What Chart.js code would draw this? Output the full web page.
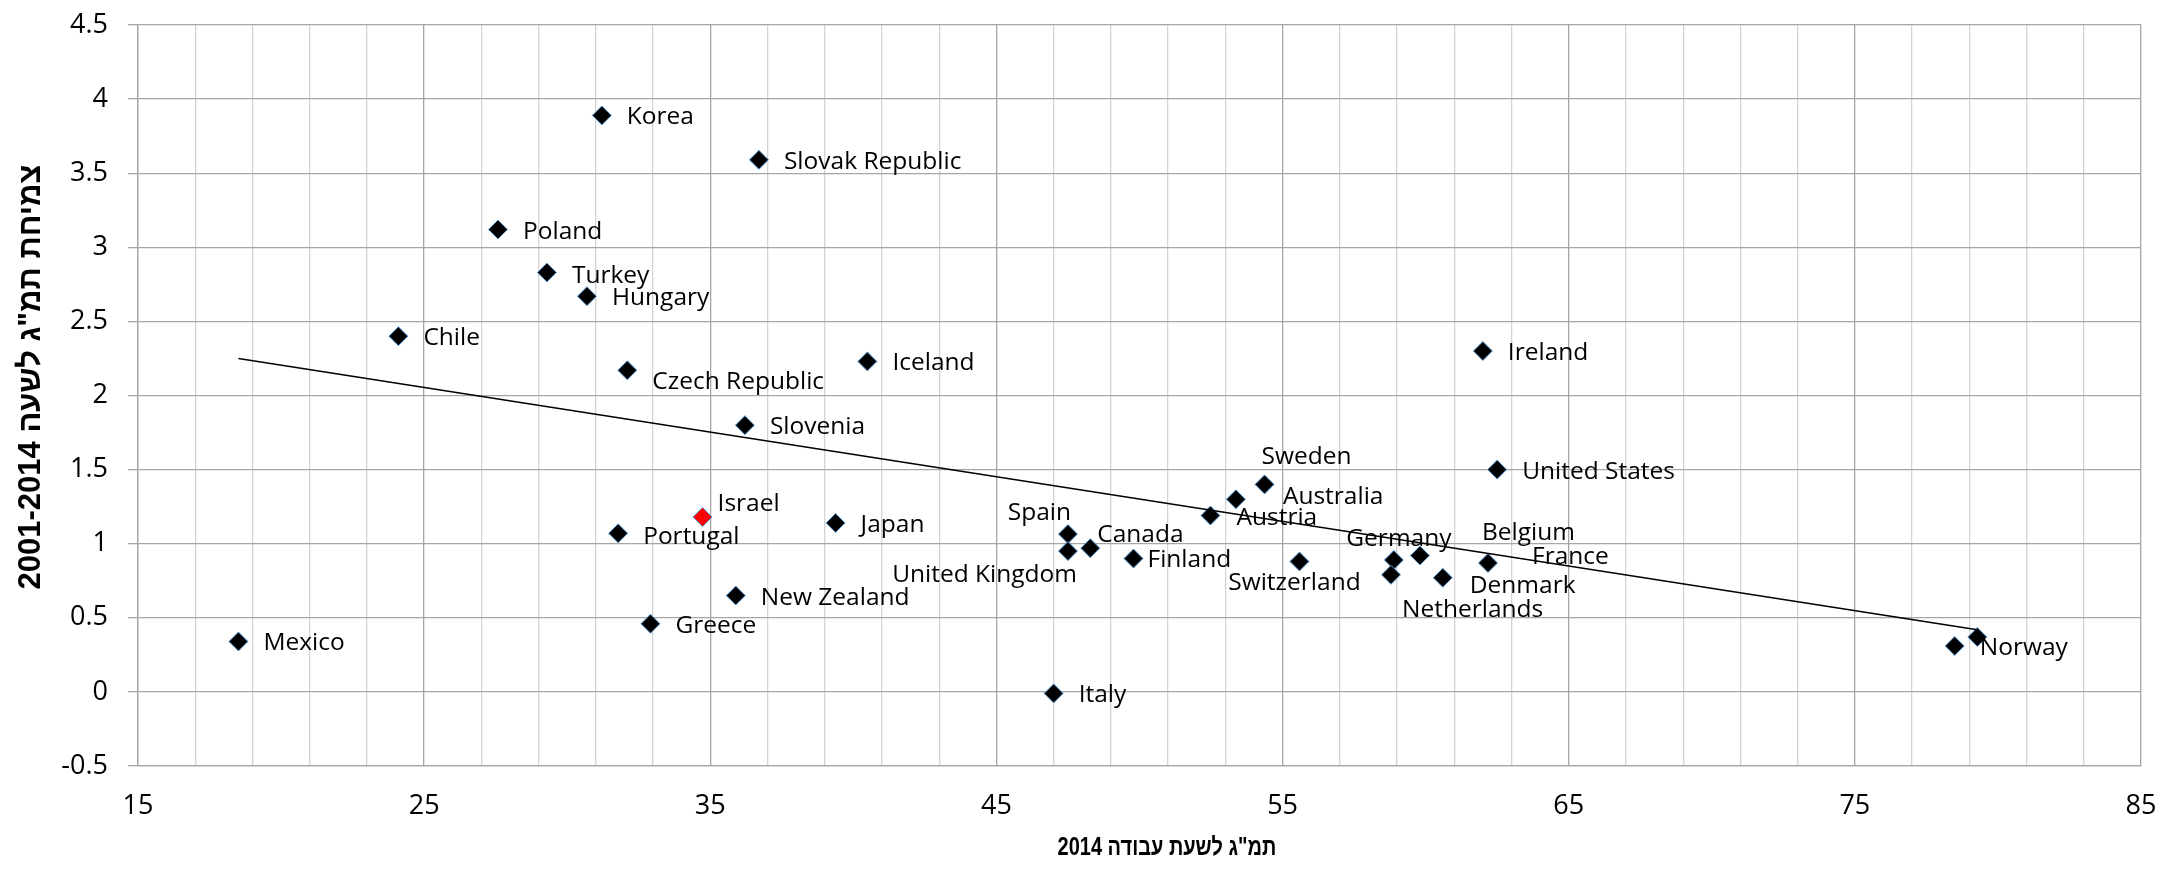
<!DOCTYPE html>
<html>
<head>
<meta charset="utf-8">
<script src="https://cdn.jsdelivr.net/npm/chart.js@4"></script>
<style>
  body { margin: 0; background: #fff; }
</style>
</head>
<body>
<canvas id="chart" width="2160" height="869"></canvas>
<script>
// Data
const countries = ["Korea", "Slovak Republic", "Poland", "Turkey", "Hungary", "Chile", "Czech Republic", "Iceland",
    "Slovenia", "Israel", "Portugal", "Japan", "New Zealand", "Greece", "Mexico", "Spain", "United Kingdom",
    "Canada", "Finland", "Italy", "Austria", "Australia", "Sweden", "Switzerland", "Germany", "Netherlands",
    "Belgium", "Denmark", "France", "Ireland", "United States", "Norway", ""];
const gdpPerHour = [31.21, 36.70, 27.58, 29.29, 30.69, 24.10, 32.10, 40.49,
    36.21, 34.73, 31.78, 39.38, 35.89, 32.91, 18.51, 47.50, 47.50,
    48.28, 49.79, 47.00, 52.48, 53.37, 54.37, 55.59, 58.89, 58.79,
    59.80, 60.60, 62.18, 62.00, 62.50, 78.49, 79.28];
const growth = [3.89, 3.59, 3.12, 2.83, 2.67, 2.40, 2.17, 2.23,
    1.80, 1.18, 1.07, 1.14, 0.65, 0.46, 0.34, 1.065, 0.95,
    0.97, 0.90, -0.01, 1.19, 1.30, 1.40, 0.88, 0.89, 0.79,
    0.92, 0.77, 0.87, 2.30, 1.50, 0.31, 0.37];
const highlight = "Israel";

// trend line end points
const trendX = [18.51, 79.28];
const trendY = [2.25, 0.42];

const xTickLabels = [15, 25, 35, 45, 55, 65, 75, 85];
const yTickLabels = [-0.5, 0, 0.5, 1, 1.5, 2, 2.5, 3, 3.5, 4, 4.5];

const xTitle = 'תמ"ג לשעת עבודה 2014';
const yTitle = 'צמיחת תמ"ג לשעה 2001-2014';

// where each data label sits relative to its marker: [dx, dy, align]
const labelPlacement = {
    "Turkey": [25, 4, "left"],
    "Czech Republic": [25, 12, "left"],
    "Israel": [15, -13, "left"],
    "Portugal": [25, 4, "left"],
    "Spain": [3, -21, "right"],
    "United Kingdom": [9, 24, "right"],
    "Canada": [7, -13, "left"],
    "Finland": [14, 1, "left"],
    "Austria": [26, 2, "left"],
    "Australia": [47, -2, "left"],
    "Sweden": [-3, -27, "left"],
    "Switzerland": [-5, 22, "center"],
    "Germany": [5, -21, "center"],
    "Netherlands": [11, 35, "left"],
    "Belgium": [62, -23, "left"],
    "Denmark": [27, 8, "left"],
    "France": [44, -6, "left"]
};

const labelFont = '24.5px "Open Sans", sans-serif';
const titleFamily = '"Liberation Sans", Arial, sans-serif';

const points = gdpPerHour.map((x, i) => ({ x: x, y: growth[i] }));
const trend = trendX.map((x, i) => ({ x: x, y: trendY[i] }));

// Country names next to the markers
const pointLabels = {
    id: 'pointLabels',
    afterDatasetsDraw(chart) {
        const ctx = chart.ctx;
        const meta = chart.getDatasetMeta(1);
        ctx.save();
        ctx.font = labelFont;
        ctx.fillStyle = '#000';
        ctx.textBaseline = 'middle';
        meta.data.forEach((el, i) => {
            const name = countries[i];
            if (!name) return;
            const place = labelPlacement[name] || [25, 2, "left"];
            ctx.textAlign = place[2];
            ctx.fillText(name, el.x + place[0], el.y + place[1]);
        });
        ctx.restore();
    }
};

// Hebrew axis titles, drawn right-to-left
const axisTitles = {
    id: 'axisTitles',
    afterDraw(chart) {
        const ctx = chart.ctx;
        ctx.save();
        ctx.direction = 'rtl';
        ctx.fillStyle = '#000';
        ctx.textAlign = 'center';
        ctx.textBaseline = 'middle';

        ctx.save();
        ctx.translate(1167, 848);
        ctx.scale(0.8, 1); // the x title is set in a narrow face
        ctx.font = 'bold 25px ' + titleFamily;
        ctx.fillText(xTitle, 0, 0);
        ctx.restore();

        ctx.translate(31, 377);
        ctx.rotate(-Math.PI / 2);
        ctx.font = 'bold 31px ' + titleFamily;
        ctx.fillText(yTitle, 0, 0);
        ctx.restore();
    }
};

// keep the plot area where the reference has it
const noScalePadding = (scale) => {
    scale.paddingLeft = 0;
    scale.paddingRight = 0;
    scale.paddingTop = 0;
    scale.paddingBottom = 0;
};

new Chart(document.getElementById('chart'), {
    type: 'scatter',
    data: {
        datasets: [{
            type: 'line',
            data: trend,
            borderColor: '#000',
            borderWidth: 1.5,
            pointRadius: 0,
            fill: false,
            order: 0
        }, {
            data: points,
            pointStyle: 'rectRot',
            pointRadius: 9.5,
            pointHoverRadius: 9.5,
            backgroundColor: points.map((p, i) => countries[i] === highlight ? '#ff0000' : '#000000'),
            borderColor: '#5b9bd5',
            borderWidth: 1,
            order: 1
        }]
    },
    options: {
        responsive: false,
        animation: false,
        layout: { padding: { left: 0, right: 19, top: 25, bottom: 0 } },
        plugins: {
            legend: { display: false },
            tooltip: { enabled: false }
        },
        scales: {
            x: {
                type: 'linear',
                min: 15,
                max: 85,
                afterFit: (scale) => { scale.height = 103; noScalePadding(scale); },
                border: { color: '#a6a6a6', width: 1.3 },
                grid: {
                    drawTicks: false,
                    lineWidth: 1.3,
                    color: (c) => xTickLabels.includes(c.tick.value) ? '#a6a6a6' : '#d4d4d4'
                },
                ticks: {
                    stepSize: 2,
                    maxTicksLimit: 100,
                    autoSkip: false,
                    maxRotation: 0,
                    padding: 24,
                    color: '#000',
                    font: { family: '"Open Sans", sans-serif', size: 27 },
                    callback: (v) => xTickLabels.includes(v) ? String(v) : ''
                }
            },
            y: {
                min: -0.5,
                max: 4.5,
                afterFit: (scale) => { scale.width = 138; noScalePadding(scale); },
                border: { color: '#a6a6a6', width: 1.3 },
                grid: {
                    color: '#a6a6a6',
                    lineWidth: 1.3,
                    tickLength: 10
                },
                ticks: {
                    stepSize: 0.5,
                    padding: 20,
                    color: '#000',
                    font: { family: '"Open Sans", sans-serif', size: 27 },
                    callback: (v) => yTickLabels.includes(v) ? String(v) : ''
                }
            }
        }
    },
    plugins: [pointLabels, axisTitles]
});
</script>
</body>
</html>
